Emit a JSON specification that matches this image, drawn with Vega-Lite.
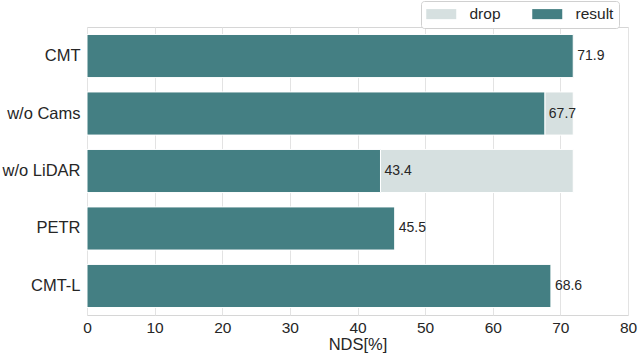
{
  "$schema": "https://vega.github.io/schema/vega-lite/v6.json",
  "width": 541,
  "height": 288,
  "autosize": {"type": "none"},
  "padding": {"left": 87, "top": 27, "right": 12, "bottom": 40},
  "background": "white",
  "config": {
    "font": "Liberation Sans",
    "view": {"stroke": "#d6d6d6", "strokeWidth": 1},
    "axis": {"labelFont": "Liberation Sans", "titleFont": "Liberation Sans", "labelColor": "#262626", "titleColor": "#262626", "titleFontWeight": "normal", "ticks": false, "domain": false}
  },
  "data": {
    "values": [
      {"model": "CMT", "series": "result", "start": 0, "end": 71.9},
      {"model": "w/o Cams", "series": "drop", "start": 67.7, "end": 71.9},
      {"model": "w/o Cams", "series": "result", "start": 0, "end": 67.7},
      {"model": "w/o LiDAR", "series": "drop", "start": 43.4, "end": 71.9},
      {"model": "w/o LiDAR", "series": "result", "start": 0, "end": 43.4},
      {"model": "PETR", "series": "result", "start": 0, "end": 45.5},
      {"model": "CMT-L", "series": "result", "start": 0, "end": 68.6}
    ]
  },
  "encoding": {
    "y": {"field": "model", "type": "nominal", "sort": ["CMT", "w/o Cams", "w/o LiDAR", "PETR", "CMT-L"], "title": null,
      "scale": {"paddingInner": 0.25, "paddingOuter": 0.13},
      "axis": {"labelFontSize": 16.5, "labelPadding": 7, "grid": false}}
  },
  "layer": [
    {
      "mark": {"type": "bar", "stroke": "white", "strokeWidth": 1},
      "encoding": {
        "x": {"field": "start", "type": "quantitative", "scale": {"domain": [0, 80], "nice": false},
          "axis": {"values": [0,10,20,30,40,50,60,70,80], "labelFlush": false, "labelFontSize": 15.5, "labelPadding": 5, "title": "NDS[%]", "titleFontSize": 16.5, "titlePadding": 1, "grid": true, "gridColor": "#e3e3e3"}},
        "x2": {"field": "end"},
        "color": {"field": "series", "type": "nominal",
          "scale": {"domain": ["drop", "result"], "range": ["#d6e0e0", "#447f83"]},
          "legend": {"title": null, "orient": "none", "direction": "horizontal", "legendX": 334, "legendY": -26,
            "symbolType": "M-1,-0.67H3V0.67H-1Z", "symbolSize": 225, "symbolStrokeWidth": 0, "labelFontSize": 15.5, "labelColor": "#262626", "labelOffset": 28,
            "columnPadding": 31, "padding": 5, "strokeColor": "#d0d0d0", "fillColor": "white", "cornerRadius": 3, "offset": 0}}
      }
    },
    {
      "transform": [{"filter": "datum.series === 'result'"}],
      "mark": {"type": "text", "align": "left", "baseline": "middle", "dx": 4, "fontSize": 14, "color": "#262626"},
      "encoding": {
        "x": {"field": "end", "type": "quantitative"},
        "text": {"field": "end", "type": "quantitative", "format": ".1f"}
      }
    }
  ]
}
